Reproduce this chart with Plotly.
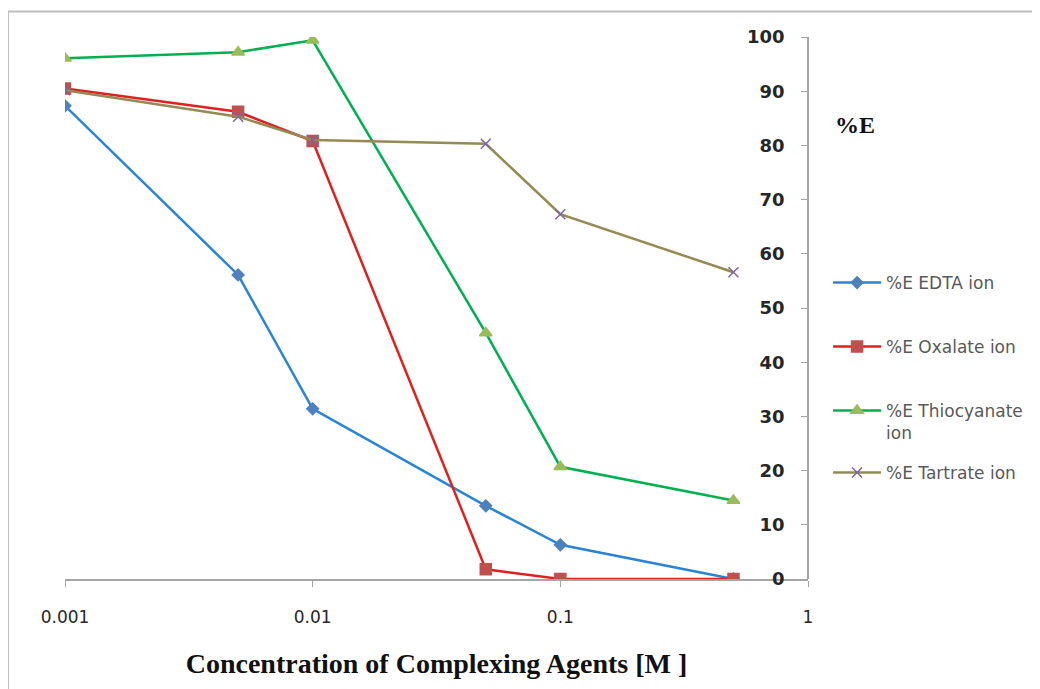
import plotly.graph_objects as go

conc = [0.001, 0.005, 0.01, 0.05, 0.1, 0.5]
edta = [87.3, 56.1, 31.4, 13.5, 6.3, 0.0]
oxalate = [90.5, 86.2, 80.8, 1.8, 0.0, 0.0]
thiocyanate = [96.1, 97.2, 99.4, 45.4, 20.7, 14.5]
tartrate = [90.2, 85.3, 81.0, 80.3, 67.3, 56.6]

x_ticks = [0.001, 0.01, 0.1, 1]
x_tick_text = ["0.001", "0.01", "0.1", "1"]
y_ticks = [0, 10, 20, 30, 40, 50, 60, 70, 80, 90, 100]

series = [
    ("%E EDTA ion", edta, "#2a84d6", "#4f81bd", "diamond", 9, "legend"),
    ("%E Oxalate ion", oxalate, "#e0201f", "#c0504d", "square", 11, "legend2"),
    ("%E Thiocyanate<br>ion", thiocyanate, "#00b050", "#9bbb59", "triangle-up", 11, "legend3"),
    ("%E Tartrate ion", tartrate, "#948a54", "#8064a2", "x-thin", 10, "legend4"),
]

fig = go.Figure()
for name, vals, lc, mc, sym, ms, lg in series:
    fig.add_trace(go.Scatter(
        x=conc, y=vals, name=name, mode="lines+markers",
        legend=lg,
        line=dict(color=lc, width=2.5),
        marker=dict(symbol=sym, size=ms, color=mc,
                    line=dict(color=mc, width=1.5)),
    ))

# legend item centres in page pixels -> paper coordinates
def leg(ycen):
    top = ycen - 16
    return dict(x=1.027, y=(579 - top) / 542, xanchor="left", yanchor="top",
                font=dict(family="DejaVu Sans", size=17, color="#595959"),
                valign="top", itemwidth=48, bgcolor="rgba(0,0,0,0)")

fig.update_layout(
    width=1040, height=689,
    paper_bgcolor="white", plot_bgcolor="white",
    margin=dict(l=57, r=240, t=29, b=118),
    showlegend=True,
    legend=leg(281), legend2=leg(345), legend3=leg(409), legend4=leg(471),
    xaxis=dict(type="log", range=[-3, 0], tickvals=x_ticks, ticktext=x_tick_text,
               showgrid=False, zeroline=False, showline=True, linecolor="#a6a6a6",
               linewidth=1.5, ticks="outside", ticklen=6, tickcolor="#a6a6a6",
               ticklabelstandoff=16,
               tickfont=dict(family="DejaVu Sans", size=17, color="#262626"),
               title=dict(text="<b>Concentration of Complexing Agents [M ]</b>",
                          font=dict(family="Liberation Serif", size=28, color="#111111"),
                          standoff=27)),
    yaxis=dict(range=[0, 100], tickvals=y_ticks, showgrid=False, zeroline=False,
               anchor="free", position=1, side="left",
               showline=True, linecolor="#a6a6a6", linewidth=1.5,
               ticks="outside", ticklen=6, tickcolor="#a6a6a6",
               ticklabelstandoff=13,
               tickfont=dict(family="DejaVu Sans", size=18, color="#262626", weight="bold")),
    shapes=[dict(type="rect", xref="paper", yref="paper",
                 x0=-0.0767, x1=1.35, y0=-0.25, y1=1.047,
                 line=dict(color="#bfbfbf", width=2), fillcolor="rgba(0,0,0,0)",
                 layer="below")],
    annotations=[dict(text="<b>%E</b>", xref="paper", yref="paper",
                      x=1.063, y=(579 - 125) / 542, xanchor="center", yanchor="middle",
                      showarrow=False,
                      font=dict(family="Liberation Serif", size=24, color="#111111"))],
)

fig.write_html("out.html")
